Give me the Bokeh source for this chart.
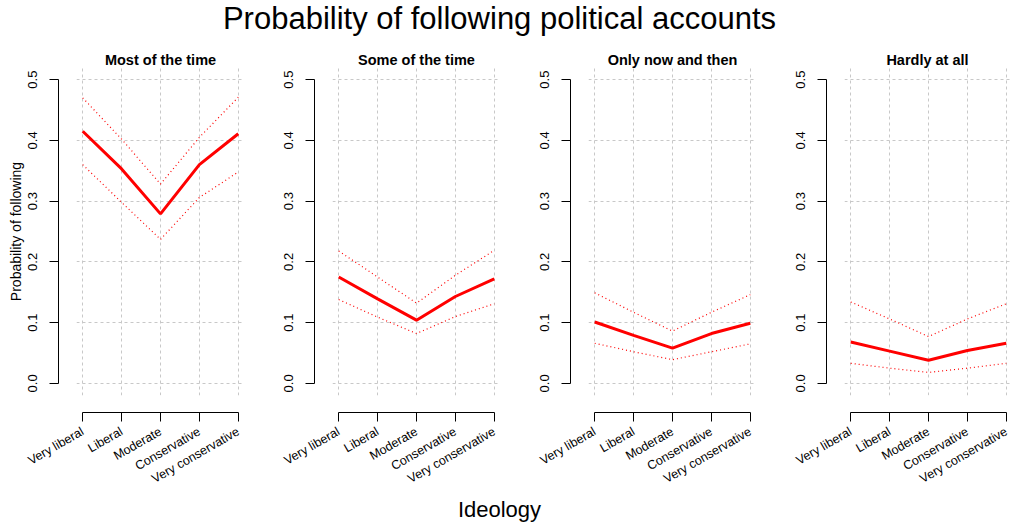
import math
from bokeh.plotting import figure
from bokeh.models import LinearAxis, Grid, FixedTicker, Range1d, Div, PrintfTickFormatter
from bokeh.layouts import row, column
from bokeh.embed import file_html
from bokeh.resources import INLINE

# ---------------- data ----------------
categories = ["Very liberal", "Liberal", "Moderate", "Conservative", "Very conservative"]
panel_titles = ["Most of the time", "Some of the time", "Only now and then", "Hardly at all"]
y_ticks = [0.0, 0.1, 0.2, 0.3, 0.4, 0.5]

est_most = [0.415, 0.353, 0.279, 0.360, 0.411]
lo_most = [0.360, 0.298, 0.237, 0.306, 0.348]
hi_most = [0.470, 0.402, 0.328, 0.405, 0.471]

est_some = [0.175, 0.139, 0.104, 0.143, 0.172]
lo_some = [0.138, 0.109, 0.082, 0.110, 0.131]
hi_some = [0.218, 0.175, 0.132, 0.178, 0.219]

est_only = [0.101, 0.079, 0.058, 0.082, 0.099]
lo_only = [0.066, 0.052, 0.039, 0.052, 0.065]
hi_only = [0.149, 0.117, 0.086, 0.117, 0.146]

est_hard = [0.068, 0.053, 0.038, 0.054, 0.066]
lo_hard = [0.033, 0.025, 0.018, 0.025, 0.033]
hi_hard = [0.134, 0.106, 0.077, 0.106, 0.131]

series = [
    (est_most, lo_most, hi_most),
    (est_some, lo_some, hi_some),
    (est_only, lo_only, hi_only),
    (est_hard, lo_hard, hi_hard),
]

# ---------------- style ----------------
FONT = "Liberation Sans"
TITLE_H = 44
FIG_H = 450
LEFT = 76
TOP = 23
FRAME_H = 328
FULL_FRAME_W = 168
X0, X1 = 0.84, 5.16
GRID_COL = "#c8c8c8"

xpos = list(range(1, len(categories) + 1))


def make_panel(title, est, lo, hi, width, right, first):
    frame_w = width - LEFT - right
    x_end = X0 + (X1 - X0) * frame_w / FULL_FRAME_W
    p = figure(width=width, height=FIG_H,
               x_range=Range1d(X0, x_end), y_range=Range1d(-0.02, 0.52),
               x_axis_location=None, y_axis_location=None,
               toolbar_location=None, output_backend="svg",
               min_border_left=LEFT, min_border_right=right,
               min_border_top=TOP, min_border_bottom=FIG_H - TOP - FRAME_H,
               title=title)
    p.outline_line_color = None
    p.background_fill_color = "white"
    p.border_fill_color = "white"
    p.center = []

    p.title.align = "center"
    p.title.text_font = FONT
    p.title.text_font_size = "14.5px"
    p.title.text_font_style = "bold"
    p.title.text_color = "black"
    p.title.standoff = 0

    p.add_layout(Grid(dimension=0, ticker=FixedTicker(ticks=xpos),
                      grid_line_color=GRID_COL, grid_line_dash="3 3", grid_line_width=1), "center")
    p.add_layout(Grid(dimension=1, ticker=FixedTicker(ticks=y_ticks),
                      grid_line_color=GRID_COL, grid_line_dash="3 3", grid_line_width=1), "center")

    # invisible spacer axes so the real axes sit away from the plot region, as in R
    sp_y = LinearAxis(ticker=FixedTicker(ticks=[0.25]), axis_line_color=None,
                      major_tick_line_color="white", minor_tick_line_color=None,
                      major_tick_out=18, major_tick_in=0, major_label_standoff=0,
                      major_label_overrides={0.25: ""}, major_label_text_font_size="1px",
                      major_label_text_color="white")
    sp_x = LinearAxis(ticker=FixedTicker(ticks=[3]), axis_line_color=None,
                      major_tick_line_color="white", minor_tick_line_color=None,
                      major_tick_out=17, major_tick_in=0, major_label_standoff=0,
                      major_label_overrides={3: ""}, major_label_text_font_size="1px",
                      major_label_text_color="white")
    p.add_layout(sp_y, "left")
    p.add_layout(sp_x, "below")

    ya = LinearAxis(ticker=FixedTicker(ticks=y_ticks), bounds=(0, 0.5),
                    formatter=PrintfTickFormatter(format="%.1f"),
                    major_tick_out=9, major_tick_in=0, minor_tick_line_color=None,
                    major_label_orientation="vertical", major_label_standoff=12,
                    major_label_text_font=FONT, major_label_text_font_size="13px",
                    major_label_text_color="black",
                    axis_line_color="black", major_tick_line_color="black")
    if first:
        ya.axis_label = "Probability of following"
        ya.axis_label_text_font = FONT
        ya.axis_label_text_font_size = "14px"
        ya.axis_label_text_font_style = "normal"
        ya.axis_label_text_color = "black"
        ya.axis_label_standoff = 2
    p.add_layout(ya, "left")

    xa = LinearAxis(ticker=FixedTicker(ticks=xpos), bounds=(1, 5),
                    major_label_overrides={i: c for i, c in zip(xpos, categories)},
                    major_tick_out=9, major_tick_in=0, minor_tick_line_color=None,
                    major_label_orientation=math.pi / 6, major_label_standoff=9,
                    major_label_text_font=FONT, major_label_text_font_size="12.5px",
                    major_label_text_color="black",
                    axis_line_color="black", major_tick_line_color="black")
    p.add_layout(xa, "below")

    p.line(xpos, hi, line_color="red", line_width=1.2, line_dash="1 3")
    p.line(xpos, lo, line_color="red", line_width=1.2, line_dash="1 3")
    p.line(xpos, est, line_color="red", line_width=3)
    return p


widths = [256, 256, 256, 242]
rights = [12, 12, 12, 0]
panels = [make_panel(t, s[0], s[1], s[2], w, r, i == 0)
          for i, (t, s, w, r) in enumerate(zip(panel_titles, series, widths, rights))]

title_div = Div(text=("<div style=\"font-family:'Liberation Sans';font-size:31px;line-height:22px;"
                      "padding-top:8px;text-align:center;width:999px;color:black;\">"
                      "Probability of following political accounts</div>"),
                width=1010, height=TITLE_H, margin=0)
xlab_div = Div(text=("<div style=\"font-family:'Liberation Sans';font-size:22px;line-height:22px;"
                     "padding-top:5px;text-align:center;width:999px;color:black;\">"
                     "Ideology</div>"),
               width=1010, height=522 - TITLE_H - FIG_H, margin=0)

layout = column(title_div, row(*panels), xlab_div)

open("out.html", "w").write(file_html(layout, INLINE))
